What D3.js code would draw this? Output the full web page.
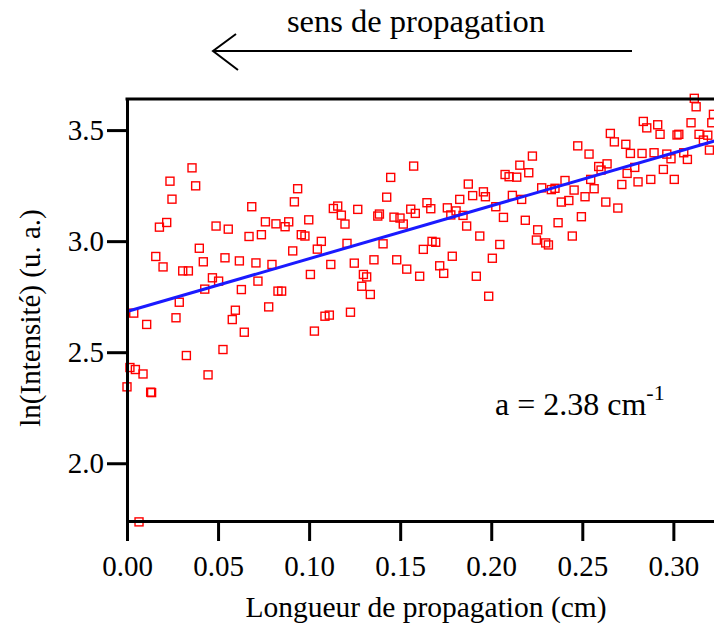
<!DOCTYPE html>
<html>
<head>
<meta charset="utf-8">
<script src="https://cdn.jsdelivr.net/npm/d3@7"></script>
<style>
  body { margin: 0; background: #fff; }
</style>
</head>
<body>
<div id="chart"></div>
<script>
// longueur de propagation (cm)
const lengths = [
  0.0357, 0.0236, 0.0377, 0.0247, 0.1448, 0.0937, 0.0919, 0.0685, 0.1426, 0.1133,
  0.1157, 0.1177, 0.1267, 0.1197, 0.1386, 0.1377, 0.1466, 0.0218, 0.0178, 0.0489,
  0.0556, 0.0670, 0.0738, 0.0760, 0.0818, 0.0868, 0.0888, 0.0998, 0.0957, 0.0977,
  0.1067, 0.1045, 0.1208, 0.1406, 0.0910, 0.0397, 0.0158, 0.0198, 0.0419, 0.0538,
  0.0617, 0.0708, 0.0796, 0.1119, 0.1248, 0.1356, 0.1481, 0.0306, 0.0337, 0.1007,
  0.1298, 0.1316, 0.1289, 0.1336, 0.0469, 0.0503, 0.0719, 0.0427, 0.0628, 0.0829,
  0.0849, 0.0287, 0.0778, 0.0595, 0.0037,
  0.0269, 0.0108, 0.0578, 0.0644, 0.1029, 0.1087, 0.1111, 0.1227, 0.0527, 0.0326,
  0.0016, 0.0046, 0.0088, 0.0445, 0.0000, 0.0130, 0.0135, 0.0066,
  0.3115, 0.3125, 0.3220, 0.2835, 0.2854, 0.2914, 0.2927, 0.3097, 0.3211, 0.3030,
  0.3020, 0.3141, 0.3189, 0.3165, 0.3198, 0.2654, 0.2676, 0.2739, 0.2764, 0.2828,
  0.2894, 0.2964, 0.2987, 0.3057, 0.3077, 0.2475, 0.2537, 0.2590, 0.2603, 0.2636,
  0.2788, 0.2746, 0.2945, 0.2717, 0.2806, 0.2876, 0.3005, 0.2546, 0.2565, 0.2515,
  0.2629, 0.2695, 0.2226, 0.2157, 0.2206, 0.2076, 0.2098, 0.2140, 0.1874, 0.1957,
  0.1968, 0.1898, 0.1827, 0.1647, 0.1668, 0.1558, 0.1583, 0.1499, 0.1517, 0.1759,
  0.1807, 0.1778, 0.1845, 0.1865, 0.2025, 0.2116, 0.2167, 0.2067, 0.2277, 0.2330,
  0.2350, 0.2405, 0.2455, 0.2385, 0.2426, 0.2187, 0.2367, 0.2495, 0.2255, 0.2248,
  0.2299, 0.2314, 0.2445, 0.1937, 0.2047, 0.2006, 0.1675, 0.1695, 0.1627, 0.1786,
  0.1717, 0.1739, 0.1607, 0.1918, 0.1986, 0.1536, 0.1574
];

// ln(intensité) correspondant
const lnIntensity = [
  3.330, 3.270, 3.249, 3.189, 3.287, 3.236, 3.177, 3.155, 3.198, 3.147,
  3.158, 3.117, 3.143, 3.077, 3.122, 3.113, 3.108, 3.084, 3.063, 3.068,
  3.054, 3.021, 3.029, 3.087, 3.078, 3.065, 3.087, 3.096, 3.029, 3.023,
  2.999, 2.964, 2.990, 2.988, 2.956, 2.968, 2.931, 2.884, 2.907, 2.925,
  2.911, 2.902, 2.895, 2.895, 2.901, 2.916, 2.916, 2.866, 2.866, 2.850,
  2.850, 2.839, 2.797, 2.760, 2.835, 2.820, 2.820, 2.784, 2.782, 2.775,
  2.775, 2.725, 2.704, 2.689, 2.676,
  2.655, 2.625, 2.647, 2.590, 2.595, 2.662, 2.667, 2.680, 2.512, 2.485,
  2.431, 2.422, 2.402, 2.398, 2.344, 2.320, 2.318, 1.736,
  3.643, 3.605, 3.571, 3.539, 3.510, 3.524, 3.481, 3.533, 3.533, 3.481,
  3.478, 3.481, 3.477, 3.455, 3.410, 3.485, 3.447, 3.436, 3.395, 3.395,
  3.398, 3.392, 3.371, 3.398, 3.368, 3.429, 3.392, 3.336, 3.320, 3.348,
  3.332, 3.305, 3.323, 3.255, 3.267, 3.278, 3.278, 3.278, 3.236, 3.200,
  3.176, 3.149, 3.383, 3.342, 3.308, 3.300, 3.290, 3.288, 3.257, 3.222,
  3.200, 3.205, 3.188, 3.173, 3.146, 3.144, 3.125, 3.104, 3.077, 3.150,
  3.136, 3.118, 3.116, 3.068, 3.155, 3.206, 3.188, 3.107, 3.240, 3.232,
  3.238, 3.273, 3.230, 3.176, 3.183, 3.094, 3.083, 3.110, 3.051, 3.005,
  2.992, 2.983, 3.023, 3.023, 2.985, 2.923, 2.999, 2.995, 2.963, 2.932,
  2.889, 2.855, 2.842, 2.842, 2.752, 2.874, 3.338
];

// ajustement linéaire : ln(I) = b + a * L
const fitSlope = 2.38;
const fitIntercept = 2.683;

const xTicks = [0, 0.05, 0.10, 0.15, 0.20, 0.25, 0.30];
const yTicks = [2.0, 2.5, 3.0, 3.5];

(() => {
    const W = 714, H = 631;
    const mLeft = 127, mTop = 99, mBottom = 521;
    const serif = "'Liberation Serif', 'Times New Roman', Times, serif";

    const svg = d3.select("#chart")
        .append("svg")
        .attr("width", W)
        .attr("height", H)
        .style("font-family", serif);

    // le cadre dépasse à droite de la fenêtre
    const x = d3.scaleLinear().domain([0, 0.33]).range([mLeft, 728]);
    const y = d3.scaleLinear().domain([1.74, 3.64]).range([mBottom, mTop]);

    // points mesurés
    const points = lengths.map((d, i) => ({ x: d, y: lnIntensity[i] }));
    const s = 8;
    svg.append("g")
        .selectAll("rect")
        .data(points)
        .enter()
        .append("rect")
        .attr("x", d => x(d.x) - s / 2)
        .attr("y", d => y(d.y) - s / 2)
        .attr("width", s)
        .attr("height", s)
        .attr("fill", "none")
        .attr("stroke", "#ff0000")
        .attr("stroke-width", 1.4);

    // droite d'ajustement
    const fit = x.domain().map(v => ({ x: v, y: fitIntercept + fitSlope * v }));
    svg.append("path")
        .datum(fit)
        .attr("d", d3.line().x(d => x(d.x)).y(d => y(d.y)))
        .attr("fill", "none")
        .attr("stroke", "#1a1aff")
        .attr("stroke-width", 3);

    // axe x
    const xAxis = svg.append("g")
        .attr("transform", `translate(0, ${mBottom})`)
        .call(d3.axisBottom(x).tickValues(xTicks).tickFormat(d3.format(".2f"))
            .tickSizeInner(20).tickSizeOuter(0).tickPadding(14));
    xAxis.select(".domain").attr("stroke-width", 3);
    xAxis.selectAll(".tick line").attr("stroke-width", 3);
    xAxis.attr("font-family", null).attr("font-size", null);
    xAxis.selectAll("text").style("font-family", serif).style("font-size", "29px");

    // axe y
    const yAxis = svg.append("g")
        .attr("transform", `translate(${mLeft}, 0)`)
        .call(d3.axisLeft(y).tickValues(yTicks).tickFormat(d3.format(".1f"))
            .tickSizeInner(20).tickSizeOuter(0).tickPadding(3));
    yAxis.select(".domain").attr("stroke-width", 3);
    yAxis.selectAll(".tick line").attr("stroke-width", 3);
    yAxis.attr("font-family", null).attr("font-size", null);
    yAxis.selectAll("text").style("font-family", serif).style("font-size", "29px");

    // bord supérieur du cadre
    svg.append("line")
        .attr("x1", mLeft - 1.5).attr("x2", W)
        .attr("y1", mTop).attr("y2", mTop)
        .attr("stroke", "#000")
        .attr("stroke-width", 3);

    // titres des axes
    svg.append("text")
        .attr("x", 426)
        .attr("y", 617)
        .attr("text-anchor", "middle")
        .style("font-size", "29.5px")
        .text("Longueur de propagation (cm)");

    svg.append("text")
        .attr("transform", "translate(40, 318) rotate(-90)")
        .attr("text-anchor", "middle")
        .style("font-size", "29px")
        .text("ln(Intensité) (u. a.)");

    // coefficient d'atténuation
    const ann = svg.append("text")
        .attr("x", 495)
        .attr("y", 415)
        .style("font-size", "32px");
    ann.append("tspan").text("a = 2.38 cm");
    ann.append("tspan").attr("dy", -15).style("font-size", "22px").text("-1");

    // flèche du sens de propagation
    svg.append("text")
        .attr("x", 416)
        .attr("y", 32)
        .attr("text-anchor", "middle")
        .style("font-size", "32.5px")
        .text("sens de propagation");

    svg.append("path")
        .attr("d", "M632,51 L213,51 M236,34 L213,51 L238,70")
        .attr("fill", "none")
        .attr("stroke", "#000")
        .attr("stroke-width", 2);
})();
</script>
</body>
</html>
